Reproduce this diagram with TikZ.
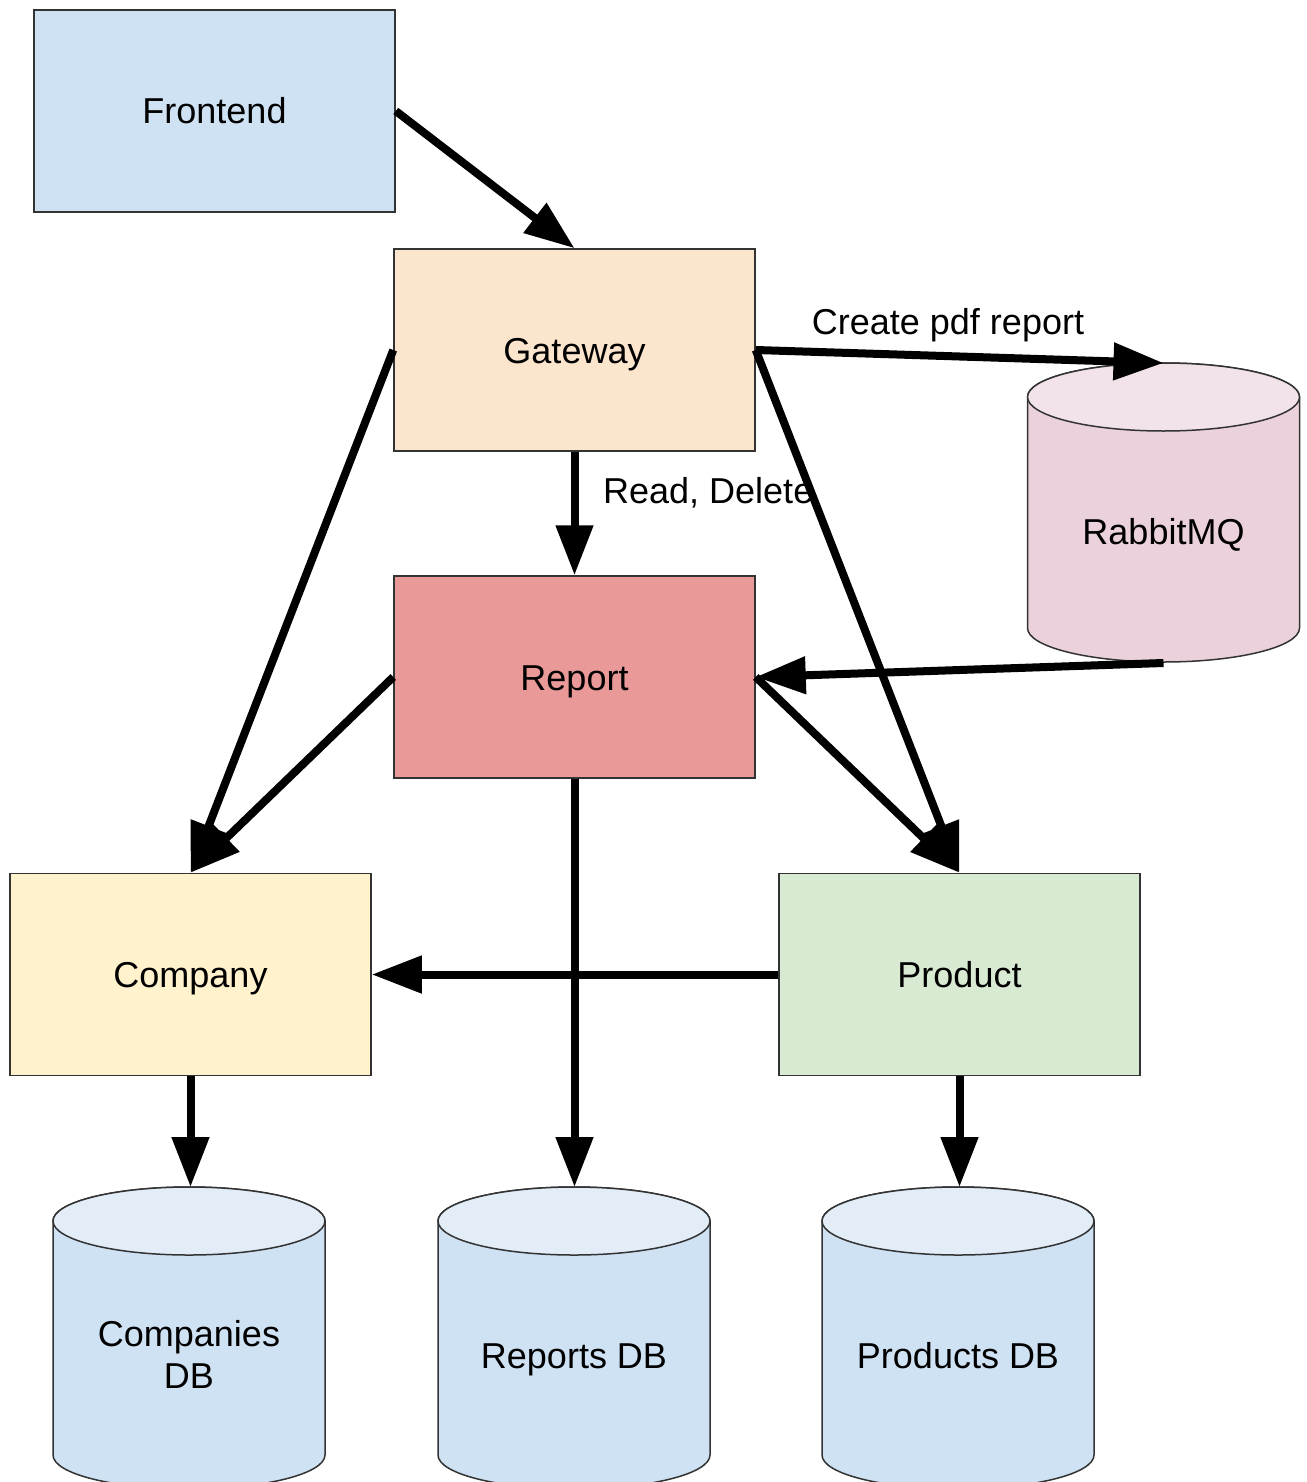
\documentclass[tikz,border=0pt]{standalone}
\usepackage{fontspec}
\setmainfont{Liberation Sans}
\usetikzlibrary{arrows.meta}

\definecolor{boxline}{HTML}{333333}
\definecolor{frontfill}{HTML}{CFE2F3}
\definecolor{gatefill}{HTML}{FCE5CD}
\definecolor{reportfill}{HTML}{EA9999}
\definecolor{companyfill}{HTML}{FFF2CC}
\definecolor{productfill}{HTML}{D9EAD3}
\definecolor{mqbody}{HTML}{EAD1DC}
\definecolor{mqtop}{HTML}{F2E3EA}
\definecolor{dbbody}{HTML}{CFE2F3}
\definecolor{dbtop}{HTML}{E2EDF8}

% cylinder: centre x, top ellipse centre y, bottom ellipse centre y, body colour, lid colour
\newcommand\storagecyl[5]{%
  \filldraw[fill=#4, draw=boxline, line width=1.5pt]
    ({#1-136},#2) -- ({#1-136},#3)
    arc[start angle=180, end angle=360, x radius=136pt, y radius=34pt]
    -- ({#1+136},#2)
    arc[start angle=0, end angle=180, x radius=136pt, y radius=34pt] -- cycle;
  \filldraw[fill=#5, draw=boxline, line width=1.5pt]
    (#1,#2) ellipse[x radius=136pt, y radius=34pt];
}

\begin{document}
\begin{tikzpicture}[x=1pt, y=-1pt,
  capline/.style={text height=26pt, text depth=0pt},
  box/.style={draw=boxline, line width=1.5pt, minimum width=361pt,
    minimum height=202pt, inner sep=0pt, capline, font=\fontsize{36}{42}\selectfont},
  cyltext/.style={inner sep=0pt, align=center, font=\fontsize{36}{42}\selectfont},
  edgelabel/.style={inner sep=0pt, capline, font=\fontsize{36}{42}\selectfont},
  flow/.style={line width=8pt, -{Triangle[length=50pt, width=36pt]}}]

\useasboundingbox (0,0) rectangle (1306,1482);
\begin{scope}
\clip (0,0) rectangle (1306,1482);

% rectangles
\node[box, fill=frontfill]   (frontend) at (214.5,111)  {Frontend};
\node[box, fill=gatefill]    (gateway)  at (574.5,350)  {Gateway};
\node[box, fill=reportfill]  (report)   at (574.5,677)  {Report};
\node[box, fill=companyfill] (company)  at (190.5,974.5) {Company};
\node[box, fill=productfill] (product)  at (959.5,974.5) {Product};

% cylinders
\storagecyl{1163.5}{397}{628}{mqbody}{mqtop}
\node[cyltext, capline] (rabbit) at (1163.5,531) {RabbitMQ};
\coordinate (rabbittop) at (1163.5,363);
\coordinate (rabbitbot) at (1163.5,663);

\storagecyl{189}{1221}{1455}{dbbody}{dbtop}
\node[cyltext] (companiesdb) at (189,1354) {Companies\\DB};
\coordinate (companiesdbtop) at (190.5,1187);

\storagecyl{574}{1221}{1455}{dbbody}{dbtop}
\node[cyltext, capline] (reportsdb) at (574,1355) {Reports DB};
\coordinate (reportsdbtop) at (574.5,1187);

\storagecyl{958}{1221}{1455}{dbbody}{dbtop}
\node[cyltext, capline] (productsdb) at (958,1355) {Products DB};
\coordinate (productsdbtop) at (959.5,1187);

% edge labels
\node[edgelabel] (lblcreate) at (948,321) {Create pdf report};
\node[edgelabel, anchor=west] (lblread) at (603,490) {Read, Delete};

% connectors
\draw[flow] (frontend.east) -- (gateway.north);
\draw[flow] (gateway.east) -- (rabbittop);
\draw[flow] (gateway.south) -- (report.north);
\draw[flow] (gateway.west) -- (company.north);
\draw[flow] (gateway.east) -- (product.north);
\draw[flow] (rabbitbot) -- (report.east);
\draw[flow] (report.west) -- (company.north);
\draw[flow] (report.east) -- (product.north);
\draw[flow] (report.south) -- (reportsdbtop);
\draw[flow] (product.west) -- (company.east);
\draw[flow] (company.south) -- (companiesdbtop);
\draw[flow] (product.south) -- (productsdbtop);
\end{scope}
\end{tikzpicture}
\end{document}
